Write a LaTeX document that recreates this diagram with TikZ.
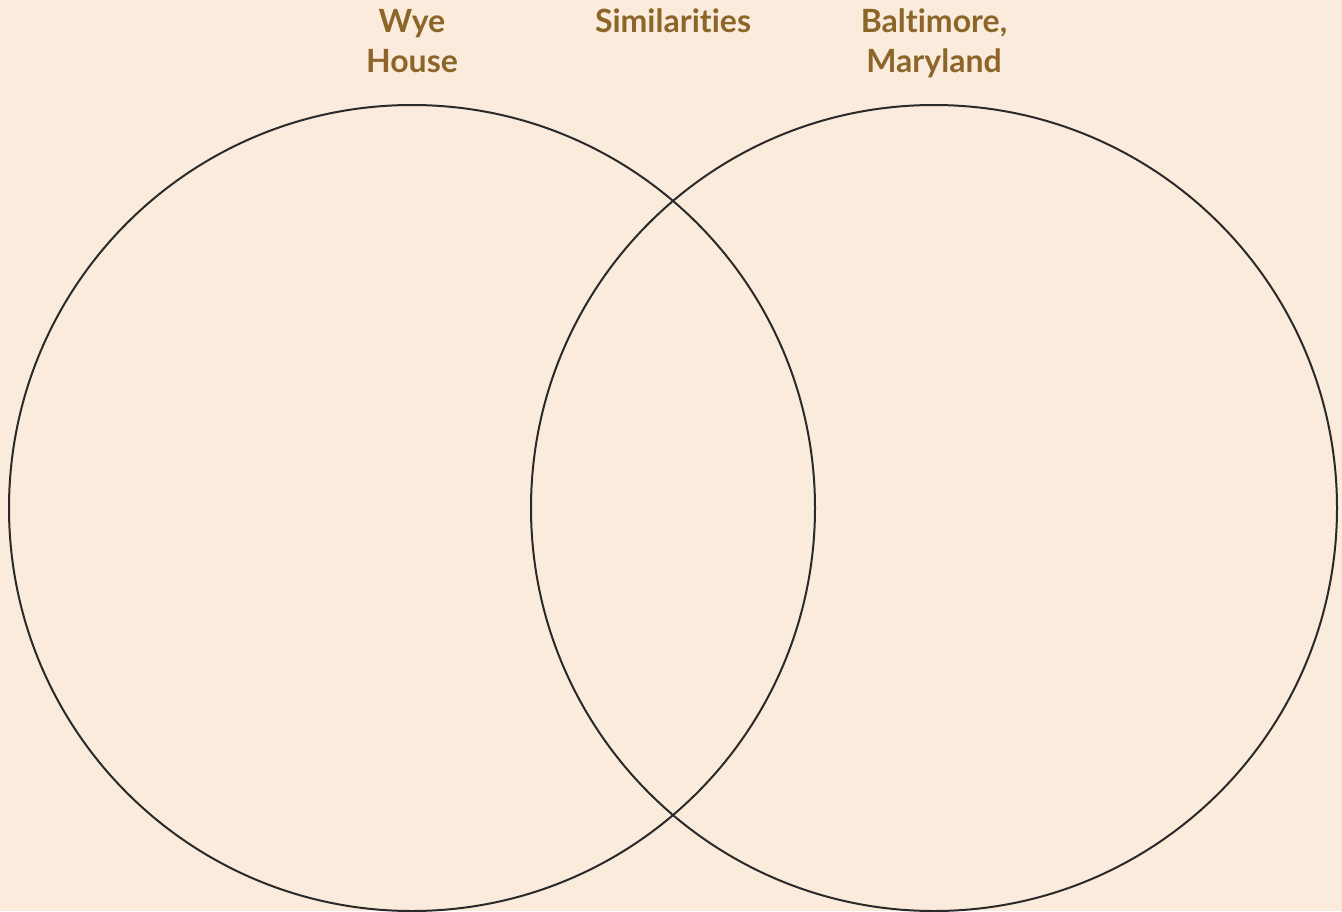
\documentclass[tikz,border=0pt]{standalone}
\usepackage{fontspec}
\setmainfont{Lato}[Ligatures=NoCommon]
\definecolor{paper}{HTML}{FBEBDC}
\definecolor{label}{HTML}{8C6529}
\definecolor{ring}{HTML}{2A2A2A}
\begin{document}
\begin{tikzpicture}[x=1pt,y=-1pt,
  setcircle/.style={draw=ring,line width=2pt},
  heading/.style={text=label,font=\fontsize{32}{40}\selectfont\bfseries,align=center,anchor=base,inner sep=0pt}]
\fill[paper] (0,0) rectangle (1342,911);
\useasboundingbox (0,0) rectangle (1342,911);
\draw[setcircle] (412,508) circle[radius=403] coordinate (left);
\draw[setcircle] (934,508) circle[radius=403] coordinate (right);
\node[heading] (wye) at (412,72) {Wye\\House};
\node[heading] (sim) at (673,32) {Similarities};
\node[heading] (balt) at (934,72) {Baltimore,\\Maryland};
\end{tikzpicture}
\end{document}
